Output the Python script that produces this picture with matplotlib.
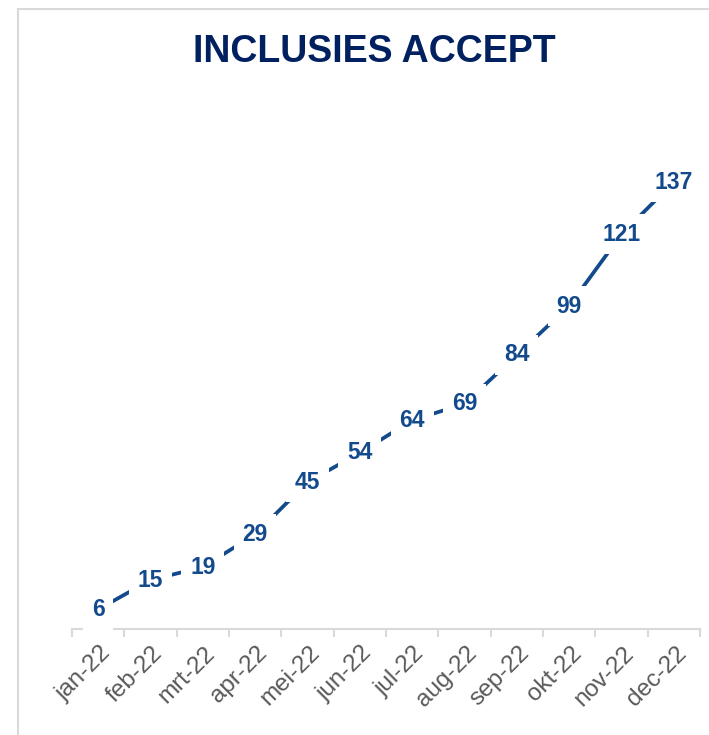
import numpy as np
import matplotlib
matplotlib.use("Agg")
import matplotlib.pyplot as plt
from matplotlib.patches import Rectangle
from matplotlib.transforms import ScaledTranslation

plt.rcParams['font.family'] = ['Liberation Sans', 'DejaVu Sans']

months = ['jan-22', 'feb-22', 'mrt-22', 'apr-22', 'mei-22', 'jun-22',
          'jul-22', 'aug-22', 'sep-22', 'okt-22', 'nov-22', 'dec-22']
inclusies = [6, 15, 19, 29, 45, 54, 64, 69, 84, 99, 121, 137]

LINE = '#124A8C'
TITLE = '#002060'
GRAY = '#D9D9D9'

fig = plt.figure(figsize=(7.09, 7.35), dpi=100)
ax = fig.add_axes([72 / 709, 1 - 629 / 735, 628 / 709, 522 / 735])

x = np.arange(len(months))
ax.plot(x, inclusies, color=LINE, lw=2.7, solid_capstyle='butt', zorder=2)

# value labels sit on the points, white box cuts the line
for xi, v in zip(x, inclusies):
    ax.text(xi, v, str(v), ha='center', va='center', fontsize=16.5,
            fontweight='bold', color=LINE, zorder=5, clip_on=False,
            bbox=dict(boxstyle='square,pad=0.38', fc='white', ec='none'))

ax.set_xlim(-0.5, len(months) - 0.5)
ax.set_ylim(0, 160)

for s in ['left', 'right', 'top']:
    ax.spines[s].set_visible(False)
ax.spines['bottom'].set_color(GRAY)
ax.spines['bottom'].set_linewidth(1.5)
ax.spines['bottom'].set_zorder(1)

ax.set_yticks([])
ax.set_xticks(x)
ax.set_xticks(np.arange(-0.5, len(months)), minor=True)
ax.tick_params(axis='x', which='major', length=0, pad=15)
ax.tick_params(axis='x', which='minor', length=5.5, width=1.5, color=GRAY)
ax.set_xticklabels(months, rotation=45, ha='right', va='center',
                   rotation_mode='anchor', fontsize=17.5, color='#595959')
offset = ScaledTranslation(9 / 100, 0, fig.dpi_scale_trans)
for lbl in ax.get_xticklabels():
    lbl.set_transform(lbl.get_transform() + offset)

fig.text(374 / 709, 1 - 52 / 735, 'INCLUSIES ACCEPT', ha='center', va='center',
         fontsize=27, fontweight='bold', color=TITLE)

fig.patches.append(Rectangle((18 / 709, -0.1), 1.0, 1.1 - 9 / 735, fill=False,
                             ec=GRAY, lw=1.5, transform=fig.transFigure))

fig.savefig('out.png', dpi=100)
